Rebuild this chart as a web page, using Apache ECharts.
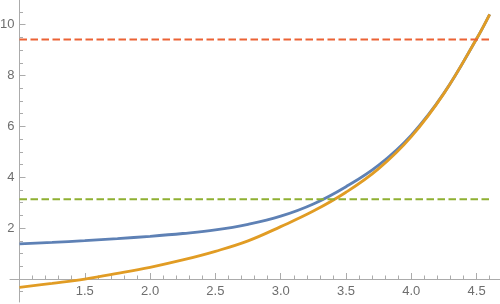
<!DOCTYPE html>
<html>
<head>
<meta charset="utf-8">
<script src="https://cdn.jsdelivr.net/npm/echarts@6/dist/echarts.min.js"></script>
<style>
html,body{margin:0;padding:0;background:#fff;}
#chart{width:500px;height:304px;}
</style>
</head>
<body>
<div id="chart"></div>
<script>
// ---- data ----
var xValues      = [1.0, 1.25, 1.5, 1.75, 2.0, 2.25, 2.5, 2.75, 3.0, 3.25, 3.5, 3.75, 4.0, 4.25, 4.5, 4.6];
var blueValues   = [1.38, 1.44, 1.51, 1.59, 1.68, 1.79, 1.93, 2.15, 2.47, 2.95, 3.63, 4.48, 5.66, 7.31, 9.45, 10.41];
var orangeValues = [-0.33, -0.17, 0.0, 0.22, 0.46, 0.75, 1.09, 1.50, 2.06, 2.67, 3.41, 4.34, 5.60, 7.30, 9.45, 10.41];
var dashX        = [1.0, 4.6];
var greenLevel   = 3.14;
var redLevel     = 9.42;
var xMajorTicks  = [1.5, 2.0, 2.5, 3.0, 3.5, 4.0, 4.5];
var xMinorTicks  = [1.1, 1.2, 1.3, 1.4, 1.6, 1.7, 1.8, 1.9, 2.1, 2.2, 2.3, 2.4, 2.6, 2.7, 2.8, 2.9,
                    3.1, 3.2, 3.3, 3.4, 3.6, 3.7, 3.8, 3.9, 4.1, 4.2, 4.3, 4.4, 4.6];
var yMajorTicks  = [2, 4, 6, 8, 10];
var yMinorTicks  = [-0.5, 0.5, 1, 1.5, 2.5, 3, 3.5, 4.5, 5, 5.5, 6.5, 7, 7.5, 8.5, 9, 9.5, 10.5];

// ---- chart ----
var X_MIN = 0.9273, X_MAX = 4.679;
var Y_MIN = -0.904, Y_MAX = 10.971;
var AXIS_COLOR = '#ababab';
var LABEL_COLOR = '#6e6e6e';
var FONT = '"Liberation Sans", Arial, sans-serif';

function pairs(xs, ys) { return xs.map(function (x, i) { return [x, ys[i]]; }); }
function flat(xs, v) { return xs.map(function (x) { return [x, v]; }); }

var chart = echarts.init(document.getElementById('chart'), null, {renderer: 'canvas'});
chart.setOption({
  animation: false,
  backgroundColor: '#ffffff',
  grid: {left: 10, right: 0, top: 0, bottom: 2, containLabel: false, outerBoundsMode: 'none'},
  xAxis: [
    {
      type: 'value', min: X_MIN, max: X_MAX, position: 'bottom', offset: -23,
      axisLine: {show: true, onZero: false, lineStyle: {color: AXIS_COLOR, width: 1}},
      axisTick: {show: true, inside: true, length: 6, customValues: xMajorTicks, lineStyle: {color: AXIS_COLOR}},
      axisLabel: {show: true, customValues: xMajorTicks, margin: 6, color: LABEL_COLOR, fontSize: 13, fontFamily: FONT,
        formatter: function (v) { return v.toFixed(1); }},
      splitLine: {show: false}
    },
    {
      type: 'value', min: X_MIN, max: X_MAX, position: 'bottom', offset: -23,
      axisLine: {show: false, onZero: false},
      axisTick: {show: true, inside: true, length: 3.5, customValues: xMinorTicks, lineStyle: {color: AXIS_COLOR}},
      axisLabel: {show: false},
      splitLine: {show: false}
    }
  ],
  yAxis: [
    {
      type: 'value', min: Y_MIN, max: Y_MAX, position: 'left', offset: -9.5,
      axisLine: {show: true, onZero: false, lineStyle: {color: AXIS_COLOR, width: 1}},
      axisTick: {show: true, inside: true, length: 6, customValues: yMajorTicks, lineStyle: {color: AXIS_COLOR}},
      axisLabel: {show: true, customValues: yMajorTicks, margin: 5, color: LABEL_COLOR, fontSize: 13, fontFamily: FONT,
        formatter: function (v) { return String(v); }},
      splitLine: {show: false}
    },
    {
      type: 'value', min: Y_MIN, max: Y_MAX, position: 'left', offset: -9.5,
      axisLine: {show: false, onZero: false},
      axisTick: {show: true, inside: true, length: 3.5, customValues: yMinorTicks, lineStyle: {color: AXIS_COLOR}},
      axisLabel: {show: false},
      splitLine: {show: false}
    }
  ],
  series: [
    {
      type: 'line', xAxisIndex: 0, yAxisIndex: 0, data: pairs(xValues, blueValues),
      smooth: 0.4, showSymbol: false, lineStyle: {color: '#5E81B5', width: 2.8}
    },
    {
      type: 'line', xAxisIndex: 0, yAxisIndex: 0, data: pairs(xValues, orangeValues),
      smooth: 0.4, showSymbol: false, lineStyle: {color: '#E19C24', width: 2.8}
    },
    {
      type: 'line', xAxisIndex: 0, yAxisIndex: 0, data: flat(dashX, greenLevel),
      showSymbol: false, lineStyle: {color: '#8FB032', width: 2, type: [7.5, 3.5]}
    },
    {
      type: 'line', xAxisIndex: 0, yAxisIndex: 0, data: flat(dashX, redLevel),
      showSymbol: false, lineStyle: {color: '#EB6235', width: 2, type: [7.5, 3.5]}
    }
  ]
});
</script>
</body>
</html>
